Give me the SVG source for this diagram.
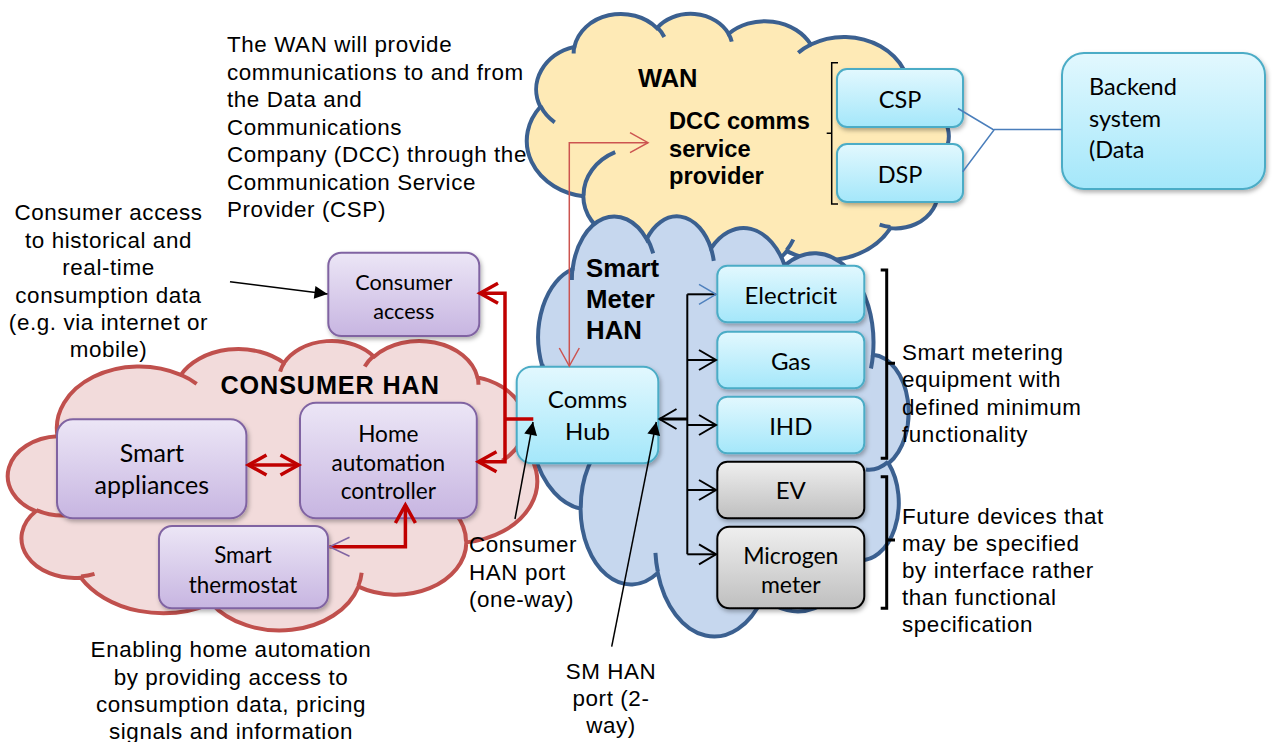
<svg xmlns="http://www.w3.org/2000/svg" width="1272" height="742" viewBox="0 0 1272 742">
  <defs>
    <style>
      .note{font-family:"Liberation Sans",Arial,sans-serif;font-size:22.4px;letter-spacing:0.6px;fill:#000}
      .mid{text-anchor:middle}
      .bold{font-family:"Liberation Sans",Arial,sans-serif;font-weight:bold;fill:#000}
      .lbl{font-family:Lato,"Open Sans",sans-serif;fill:#000;text-anchor:middle}
      .box-c{fill:url(#gC);stroke:#4BACC6;stroke-width:2;filter:url(#sh)}
      .box-p{fill:url(#gP);stroke:#8064A2;stroke-width:2;filter:url(#sh)}
      .box-g{fill:url(#gG);stroke:#000;stroke-width:2;filter:url(#sh)}
      .hook{fill:none}
      .red{fill:none;stroke:#C00000;stroke-width:3.5}
      .blk{fill:none;stroke:#000;stroke-width:2}
      .thin{fill:none;stroke:#000;stroke-width:1.5}
    </style>
    <linearGradient id="gC" x1="0" y1="0" x2="0" y2="1">
      <stop offset="0" stop-color="#E2F8FE"/>
      <stop offset="1" stop-color="#A4E7FA"/>
    </linearGradient>
    <linearGradient id="gP" x1="0" y1="0" x2="0" y2="1">
      <stop offset="0" stop-color="#ECE6F6"/>
      <stop offset="1" stop-color="#C7B5E1"/>
    </linearGradient>
    <linearGradient id="gG" x1="0" y1="0" x2="0" y2="1">
      <stop offset="0" stop-color="#EFEFEF"/>
      <stop offset="1" stop-color="#BFBFBF"/>
    </linearGradient>
    <filter id="sh" x="-10%" y="-10%" width="130%" height="140%">
      <feDropShadow dx="1.5" dy="2.5" stdDeviation="2" flood-color="#000" flood-opacity="0.3"/>
    </filter>
    <!-- cloud outline in a 43200 x 43200 unit box -->
    <path id="cloudOutline" vector-effect="non-scaling-stroke" d="M3900,14370 A6753,9190 0 0 1 14006,5204 A5333,7267 0 0 1 22459,3435 A4365,5945 0 0 1 29837,2483 A4857,6595 0 0 1 38322,5578 A5333,7273 0 0 1 41823,15462 A6775,9220 0 0 1 37408,30204 A5785,7867 0 0 1 28559,36814 A6752,9215 0 0 1 16485,39268 A7720,10543 0 0 1 5809,35472 A4360,5918 0 0 1 2116,25552 A4345,5945 0 0 1 3900,14370 Z"/>
    <!-- inner arcs where the puffs overlap -->
    <path id="cloudHooks" vector-effect="non-scaling-stroke" d="M4693,26177 A4345,5945 0 0 1 2160,25380 M6928,34899 A4360,5918 0 0 1 5820,35280 M16478,39090 A6752,9215 0 0 1 15809,37348 M28827,34751 A6752,9215 0 0 1 28560,36660 M34129,22954 A5785,7867 0 0 1 37381,30090 M41798,15354 A5333,7273 0 0 1 40350,18030 M38324,5426 A4857,6595 0 0 1 38400,6690 M29078,3952 A4857,6595 0 0 1 29820,2340 M22141,4720 A4365,5945 0 0 1 22500,3331 M14000,5192 A6753,9190 0 0 1 15301,6542 M4127,15789 A6753,9190 0 0 1 3900,14371"/>
    <marker id="mK" markerUnits="userSpaceOnUse" markerWidth="24" markerHeight="24" orient="auto-start-reverse" overflow="visible">
      <path d="M-17,-10 L0,0 L-17,10" fill="none" stroke="#000" stroke-width="2"/>
    </marker>
    <marker id="mB" markerUnits="userSpaceOnUse" markerWidth="24" markerHeight="24" orient="auto-start-reverse" overflow="visible">
      <path d="M-17,-10 L0,0 L-17,10" fill="none" stroke="#4F81BD" stroke-width="1.5"/>
    </marker>
    <marker id="mR" markerUnits="userSpaceOnUse" markerWidth="24" markerHeight="24" orient="auto-start-reverse" overflow="visible">
      <path d="M-18,-10 L0,0 L-18,10" fill="none" stroke="#C00000" stroke-width="3.5"/>
    </marker>
    <marker id="mr" markerUnits="userSpaceOnUse" markerWidth="24" markerHeight="24" orient="auto-start-reverse" overflow="visible">
      <path d="M-18,-10 L0,0 L-18,10" fill="none" stroke="#CC5450" stroke-width="1.5"/>
    </marker>
    <marker id="mP" markerUnits="userSpaceOnUse" markerWidth="24" markerHeight="24" orient="auto-start-reverse" overflow="visible">
      <path d="M-20,-9.5 L0,0 L-20,9.5" fill="none" stroke="#8064A2" stroke-width="1.5"/>
    </marker>
    <marker id="mF" markerUnits="userSpaceOnUse" markerWidth="20" markerHeight="20" orient="auto" overflow="visible">
      <path d="M-13,-6.5 L0,0 L-13,6.5 Z" fill="#000"/>
    </marker>
  </defs>

  <rect width="1272" height="742" fill="#fff"/>

  <!-- clouds -->
  <g id="cloud-wan" transform="translate(947,13) scale(-0.0097222,0.0060648)" stroke="#3B6090" stroke-width="4">
    <use href="#cloudOutline" fill="#FEEAB6"/>
    <use href="#cloudHooks" class="hook"/>
  </g>
  <g id="cloud-smhan" transform="translate(907,215) scale(-0.0087269,0.0097222)" stroke="#3B6090" stroke-width="4">
    <use href="#cloudOutline" fill="#C6D7EE"/>
    <use href="#cloudHooks" class="hook"/>
  </g>
  <g id="cloud-consumer" transform="translate(10,340) scale(0.0121991,0.0067)" stroke="#C0504D" stroke-width="4">
    <use href="#cloudOutline" fill="#F2DBDB"/>
    <use href="#cloudHooks" class="hook"/>
  </g>

  <!-- cloud titles -->
  <g id="titles">
    <text class="bold" x="638" y="87" font-size="25.5">WAN</text>
    <text class="bold" font-size="23.7"><tspan x="669" y="128.5">DCC comms</tspan><tspan x="669" y="156.5">service</tspan><tspan x="669" y="184">provider</tspan></text>
    <text class="bold" font-size="25.8"><tspan x="586" y="277">Smart</tspan><tspan x="586" y="307.5">Meter</tspan><tspan x="586" y="338.5">HAN</tspan></text>
    <text class="bold" x="220.5" y="393.5" font-size="25.2" letter-spacing="0.9">CONSUMER HAN</text>
  </g>

  <!-- nodes -->
  <g id="node-csp">
    <rect class="box-c" x="837" y="69" width="126" height="58" rx="10"/>
    <text class="lbl" x="900" y="108" font-size="23.5">CSP</text>
  </g>
  <g id="node-dsp">
    <rect class="box-c" x="837" y="144" width="126" height="58" rx="10"/>
    <text class="lbl" x="900" y="183" font-size="23.5">DSP</text>
  </g>
  <g id="node-backend">
    <rect class="box-c" x="1062" y="53" width="203" height="136" rx="22"/>
    <text class="lbl" font-size="23.5" style="text-anchor:start"><tspan x="1089" y="95">Backend</tspan><tspan x="1089" y="126.5">system</tspan><tspan x="1089" y="158">(Data</tspan></text>
  </g>
  <g id="node-consumer-access">
    <rect class="box-p" x="328.3" y="252.7" width="151" height="83.3" rx="13"/>
    <text class="lbl" font-size="21.6"><tspan x="403.8" y="290">Consumer</tspan><tspan x="403.8" y="319.3">access</tspan></text>
  </g>
  <g id="node-comms-hub">
    <rect class="box-c" x="516.7" y="366.7" width="141.6" height="96.6" rx="15"/>
    <text class="lbl" font-size="24"><tspan x="587.5" y="408.3">Comms</tspan><tspan x="587.5" y="440">Hub</tspan></text>
  </g>
  <g id="node-electricity">
    <rect class="box-c" x="717.3" y="265.7" width="147" height="56.6" rx="10"/>
    <text class="lbl" x="790.8" y="304.3" font-size="24">Electricit</text>
  </g>
  <g id="node-gas">
    <rect class="box-c" x="717.3" y="331.7" width="147" height="56.6" rx="10"/>
    <text class="lbl" x="790.8" y="370" font-size="24">Gas</text>
  </g>
  <g id="node-ihd">
    <rect class="box-c" x="717.3" y="396.7" width="147" height="56.6" rx="10"/>
    <text class="lbl" x="790.8" y="435" font-size="24">IHD</text>
  </g>
  <g id="node-ev">
    <rect class="box-g" x="717.3" y="461.7" width="147" height="56.6" rx="10"/>
    <text class="lbl" x="790.8" y="499.3" font-size="24">EV</text>
  </g>
  <g id="node-microgen">
    <rect class="box-g" x="717.3" y="526.7" width="147" height="81.6" rx="12"/>
    <text class="lbl" font-size="23"><tspan x="790.8" y="564">Microgen</tspan><tspan x="790.8" y="593.3">meter</tspan></text>
  </g>
  <g id="node-home-automation">
    <rect class="box-p" x="300" y="402.7" width="176.8" height="115.6" rx="16"/>
    <text class="lbl" font-size="22.6"><tspan x="388.3" y="441.7">Home</tspan><tspan x="388.3" y="470.7">automation</tspan><tspan x="388.3" y="499.3">controller</tspan></text>
  </g>
  <g id="node-smart-appliances">
    <rect class="box-p" x="57" y="419.3" width="189.4" height="99" rx="16"/>
    <text class="lbl" font-size="25"><tspan x="151.8" y="461.7">Smart</tspan><tspan x="151.8" y="494">appliances</tspan></text>
  </g>
  <g id="node-smart-thermostat">
    <rect class="box-p" x="159" y="526" width="169" height="82.3" rx="13"/>
    <text class="lbl" font-size="22.4"><tspan x="243" y="563.3">Smart</tspan><tspan x="243" y="593.3">thermostat</tspan></text>
  </g>

  <!-- connectors -->
  <g id="connectors">
    <!-- WAN to comms hub -->
    <path d="M648,142.7 L569.3,142.7 L569.3,366" fill="none" stroke="#CC5450" stroke-width="1.5" marker-start="url(#mr)" marker-end="url(#mr)"/>
    <!-- CSP / DSP to backend -->
    <path d="M958,108.5 L994,130 L962.7,171.7 M994,129.5 L1062,129.5" fill="none" stroke="#4A7EBB" stroke-width="1.5"/>
    <!-- bracket round CSP / DSP -->
    <path d="M838,62.7 L831.7,62.7 L831.7,204 L838,204 M831.7,133.3 L826.7,133.3" class="thin"/>
    <!-- consumer HAN links -->
    <path d="M480,293.3 L505,293.3 L505,461.7 L478.5,461.7" class="red" marker-start="url(#mR)" marker-end="url(#mR)"/>
    <path d="M505,419 L533.3,419" class="red"/>
    <path d="M248.5,465 L298.5,465" class="red" marker-start="url(#mR)" marker-end="url(#mR)"/>
    <path d="M329.5,546.7 L405.4,546.7 L405.4,505" class="red" marker-start="url(#mP)" marker-end="url(#mR)"/>
    <!-- smart meter HAN links -->
    <path d="M659.5,419 L687.3,419" fill="none" stroke="#000" stroke-width="3" marker-start="url(#mK)"/>
    <path d="M687.3,294.3 L687.3,554.3" class="blk"/>
    <path d="M687.3,294.3 L716,294.3" class="blk" marker-end="url(#mB)"/>
    <path d="M687.3,360 L716,360" class="blk" marker-end="url(#mK)"/>
    <path d="M687.3,425 L716,425" class="blk" marker-end="url(#mK)"/>
    <path d="M687.3,490 L716,490" class="blk" marker-end="url(#mK)"/>
    <path d="M687.3,554.3 L716,554.3" class="blk" marker-end="url(#mK)"/>
    <!-- callout pointers -->
    <path d="M230,281.7 L327.5,294" class="thin" marker-end="url(#mF)"/>
    <path d="M515,519 L533,422" class="thin" marker-end="url(#mF)"/>
    <path d="M611.7,646.7 L656.3,422" class="thin" marker-end="url(#mF)"/>
    <!-- right-hand brackets -->
    <path d="M880.7,270 L886.7,270 L886.7,458.3 L880.7,458.3 M886.7,363.3 L895,363.3" fill="none" stroke="#000" stroke-width="3"/>
    <path d="M880.7,476.7 L886.7,476.7 L886.7,608.3 L880.7,608.3 M886.7,540 L895,540" fill="none" stroke="#000" stroke-width="3"/>
  </g>

  <!-- annotations -->
  <g id="notes">
    <text class="note"><tspan x="227" y="52">The WAN will provide</tspan><tspan x="227" y="79.5">communications to and from</tspan><tspan x="227" y="107">the Data and</tspan><tspan x="227" y="134.5">Communications</tspan><tspan x="227" y="162">Company (DCC) through the</tspan><tspan x="227" y="189.5">Communication Service</tspan><tspan x="227" y="217">Provider (CSP)</tspan></text>
    <text class="note mid"><tspan x="108.5" y="220">Consumer access</tspan><tspan x="108.5" y="247.5">to historical and</tspan><tspan x="108.5" y="275">real-time</tspan><tspan x="108.5" y="302.5">consumption data</tspan><tspan x="108.5" y="330">(e.g. via internet or</tspan><tspan x="108.5" y="357">mobile)</tspan></text>
    <text class="note"><tspan x="902" y="360">Smart metering</tspan><tspan x="902" y="387">equipment with</tspan><tspan x="902" y="414.5">defined minimum</tspan><tspan x="902" y="442">functionality</tspan></text>
    <text class="note"><tspan x="902" y="523.5">Future devices that</tspan><tspan x="902" y="550.5">may be specified</tspan><tspan x="902" y="578">by interface rather</tspan><tspan x="902" y="605">than functional</tspan><tspan x="902" y="632">specification</tspan></text>
    <text class="note"><tspan x="469" y="552">Consumer</tspan><tspan x="469" y="579.5">HAN port</tspan><tspan x="469" y="607">(one-way)</tspan></text>
    <text class="note mid"><tspan x="611" y="678.5">SM HAN</tspan><tspan x="611" y="706">port (2-</tspan><tspan x="611" y="732.5">way)</tspan></text>
    <text class="note mid"><tspan x="231" y="657">Enabling home automation</tspan><tspan x="231" y="684.5">by providing access to</tspan><tspan x="231" y="711.5">consumption data, pricing</tspan><tspan x="231" y="738.5">signals and information</tspan></text>
  </g>
</svg>
